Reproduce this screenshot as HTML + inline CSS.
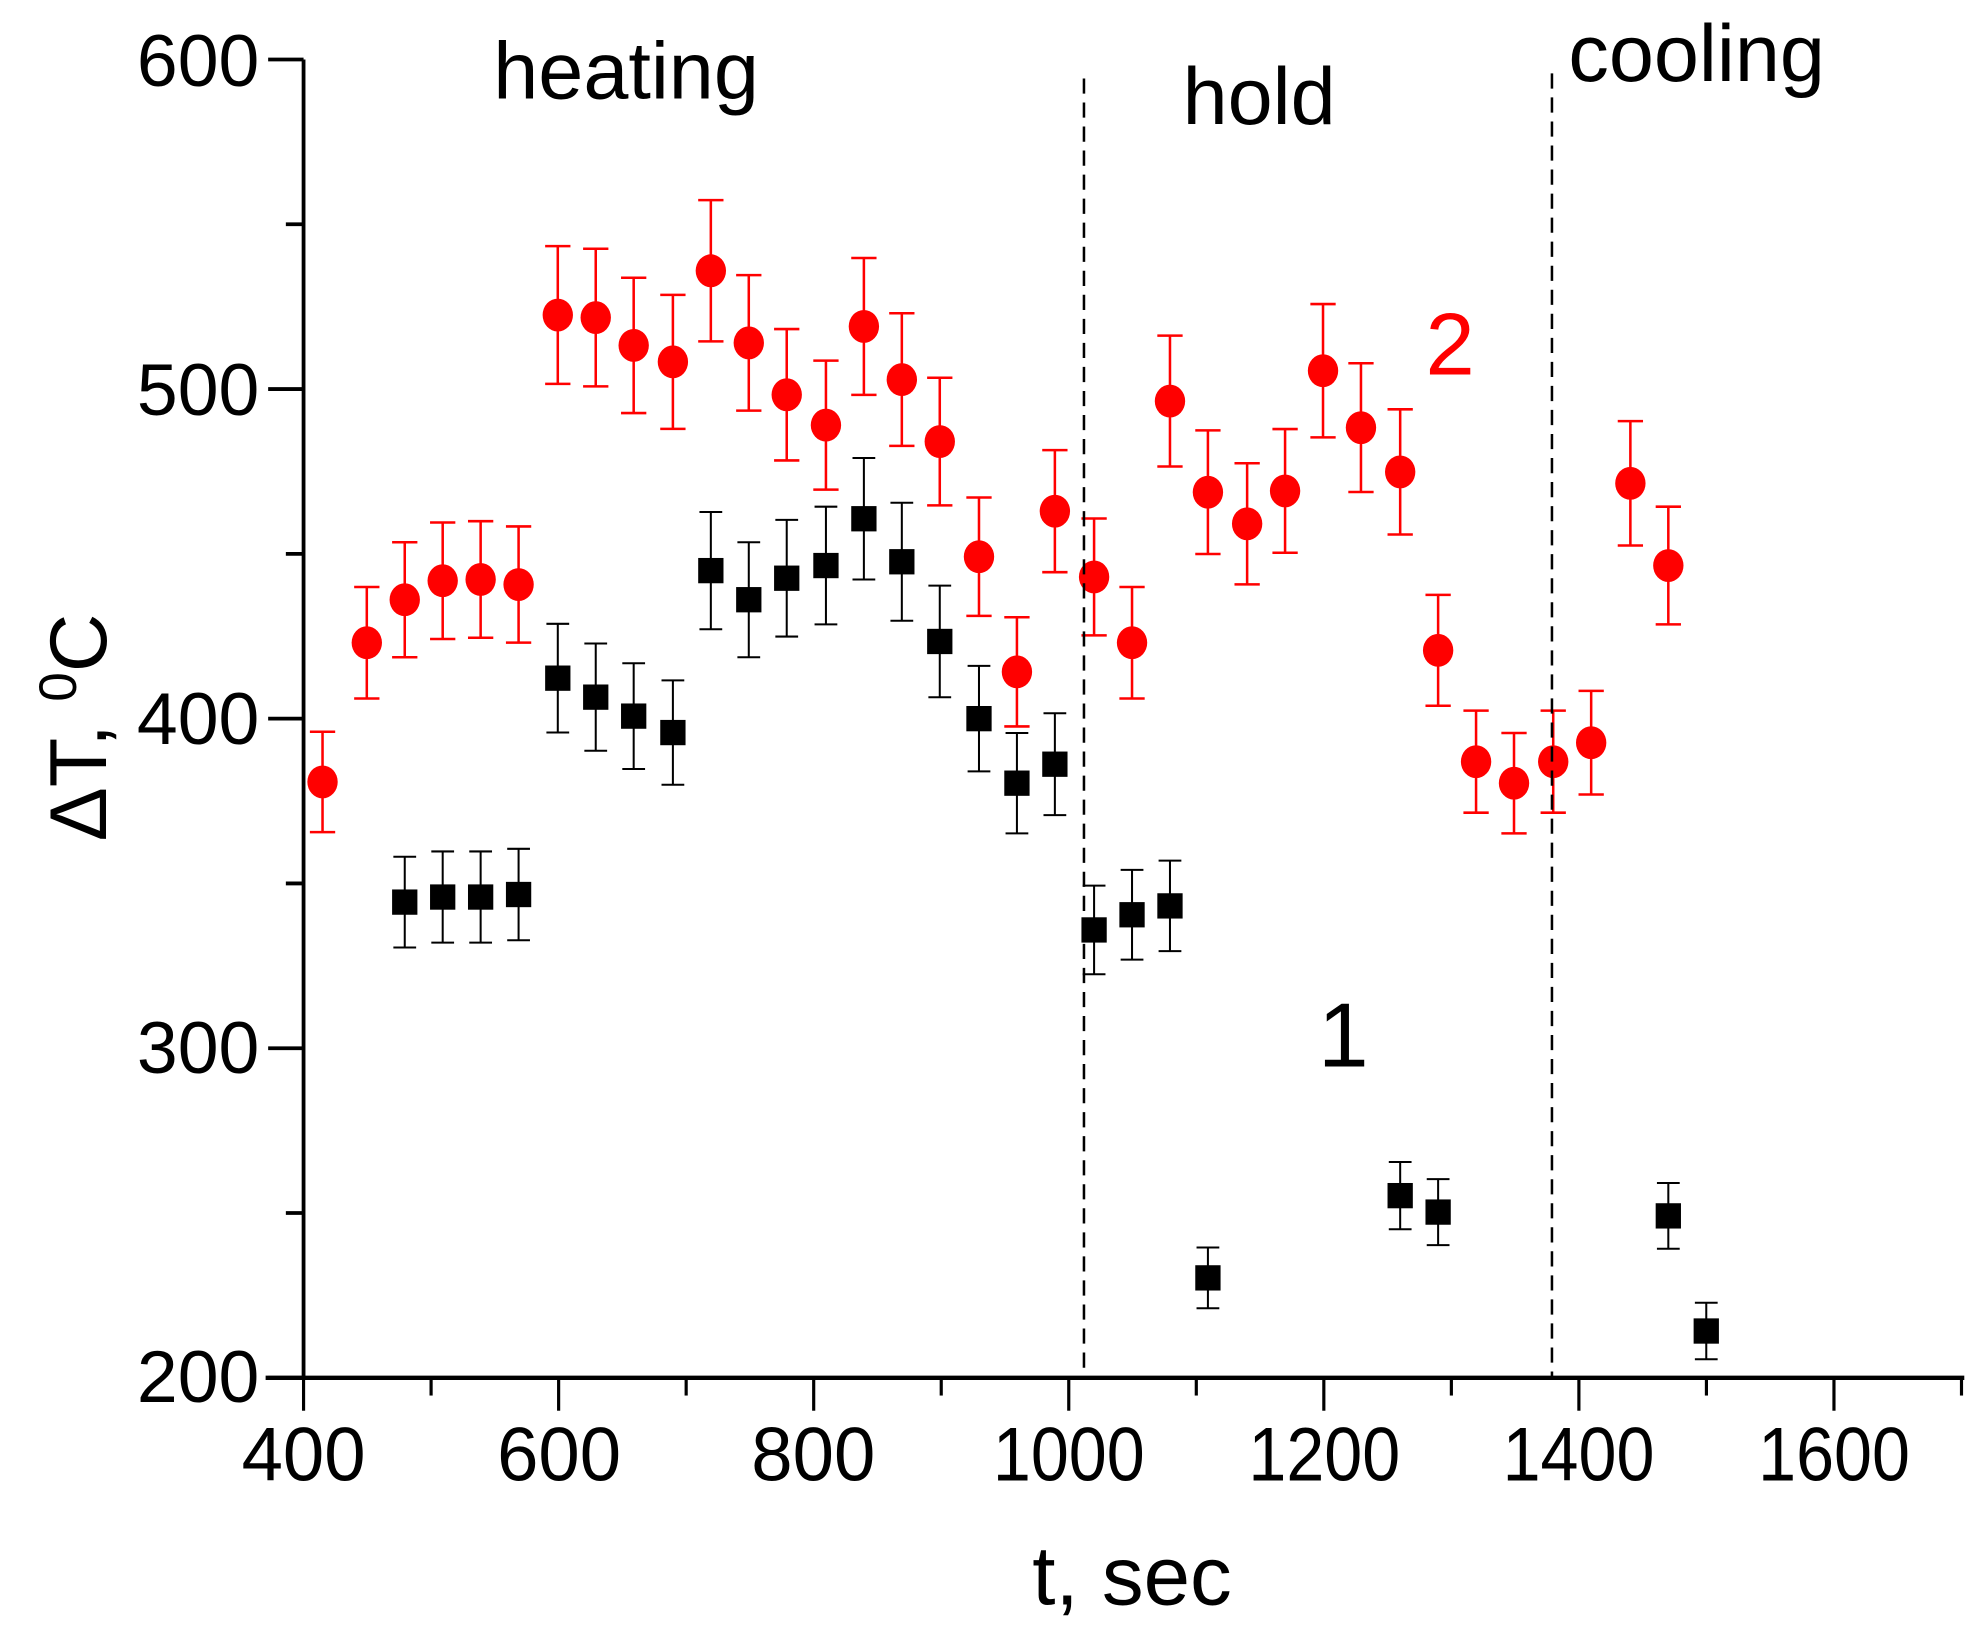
<!DOCTYPE html>
<html><head><meta charset="utf-8"><style>html,body{margin:0;padding:0;background:#fff}svg{display:block}</style></head>
<body>
<svg id="s" xmlns="http://www.w3.org/2000/svg" width="1982" height="1641" viewBox="0 0 1567 1297" preserveAspectRatio="none" font-family="Liberation Sans, Arial, sans-serif">
<rect width="1567" height="1297" fill="#fff"/>
<g id="g"></g>
<line x1="857" y1="62" x2="857" y2="1089" stroke="#000" stroke-width="2" stroke-dasharray="12,7"/>
<line x1="1227" y1="58" x2="1227" y2="1089" stroke="#000" stroke-width="2" stroke-dasharray="12,7"/>
<line x1="240" y1="47" x2="240" y2="1089" stroke="#000" stroke-width="3"/>
<line x1="210" y1="1089" x2="1553" y2="1089" stroke="#000" stroke-width="3.5"/>
<g font-size="58" fill="#000" text-anchor="end">
<text x="205" y="1108">200</text><text x="205" y="848">300</text><text x="205" y="588">400</text><text x="205" y="328">500</text><text x="205" y="68">600</text>
</g>
<g font-size="60" fill="#000" text-anchor="middle">
<text x="240" y="1170" textLength="98" lengthAdjust="spacingAndGlyphs">400</text>
<text x="442" y="1170" textLength="98" lengthAdjust="spacingAndGlyphs">600</text>
<text x="643" y="1170" textLength="98" lengthAdjust="spacingAndGlyphs">800</text>
<text x="845" y="1170" textLength="120" lengthAdjust="spacingAndGlyphs">1000</text>
<text x="1047" y="1170" textLength="120" lengthAdjust="spacingAndGlyphs">1200</text>
<text x="1248" y="1170" textLength="120" lengthAdjust="spacingAndGlyphs">1400</text>
<text x="1450" y="1170" textLength="120" lengthAdjust="spacingAndGlyphs">1600</text>
</g>
<text x="895" y="1268" font-size="66" text-anchor="middle">t, sec</text>
<text transform="translate(84,575) rotate(-90)" font-size="64" text-anchor="middle">ΔT, <tspan font-size="42" dy="-24">0</tspan><tspan dy="24">C</tspan></text>
<text x="390" y="78" font-size="64">heating</text>
<text x="935" y="98" font-size="64">hold</text>
<text x="1240" y="64" font-size="64">cooling</text>
<text x="1127" y="296" font-size="70" fill="#f00">2</text>
<text x="1042" y="843" font-size="72" fill="#000">1</text>
</svg>
<script>
var g=document.getElementById('g'),NS='http://www.w3.org/2000/svg';
function el(t,a){var e=document.createElementNS(NS,t);for(var k in a)e.setAttribute(k,a[k]);g.appendChild(e);return e;}
for(var v=200;v<=600;v+=50){var y=1089-(v-200)*2.605;var L=(v%100==0)?28:14;el('line',{x1:240-L,y1:y,x2:240,y2:y,stroke:'#000','stroke-width':3});}
for(var x=400;x<=1700;x+=100){var px=240+(x-400)*1.0083;var L=(x%200==0)?26:14;el('line',{x1:px,y1:1089,x2:px,y2:1089+L,stroke:'#000','stroke-width':2.5});}
var red=[[255,618],[290,508],[320,474],[350,459],[380,458],[410,462],[441,249],[471,251],[501,273],[532,286],[562,214],[592,271],[622,312],[653,336],[683,258],[713,300],[743,349],[774,440],[804,531],[834,404],[865,456],[895,508],[925,317],[955,389],[986,414],[1016,388],[1046,293],[1076,338],[1107,373],[1137,514],[1167,602],[1197,619],[1228,602],[1258,587],[1289,382],[1319,447]];
var blk=[[320,713],[350,709],[380,709],[410,707],[441,536],[471,551],[501,566],[532,579],[562,451],[592,474],[622,457],[653,447],[683,410],[713,444],[743,507],[774,568],[804,619],[834,604],[865,735],[895,723],[925,716],[955,1010],[1107,945],[1137,958],[1319,961],[1349,1052]];
function err(py){var v=200+(1089-py)/2.605;return v*0.04*2.605;}
red.forEach(function(p){var e=err(p[1]);
el('line',{x1:p[0],y1:p[1]-e,x2:p[0],y2:p[1]+e,stroke:'#f00','stroke-width':2});
el('line',{x1:p[0]-10,y1:p[1]-e,x2:p[0]+10,y2:p[1]-e,stroke:'#f00','stroke-width':2});
el('line',{x1:p[0]-10,y1:p[1]+e,x2:p[0]+10,y2:p[1]+e,stroke:'#f00','stroke-width':2});
el('ellipse',{cx:p[0],cy:p[1],rx:12,ry:13,fill:'#f00'});});
blk.forEach(function(p){var e=err(p[1]);
el('line',{x1:p[0],y1:p[1]-e,x2:p[0],y2:p[1]+e,stroke:'#000','stroke-width':1.6});
el('line',{x1:p[0]-9,y1:p[1]-e,x2:p[0]+9,y2:p[1]-e,stroke:'#000','stroke-width':1.6});
el('line',{x1:p[0]-9,y1:p[1]+e,x2:p[0]+9,y2:p[1]+e,stroke:'#000','stroke-width':1.6});
el('rect',{x:p[0]-10,y:p[1]-10,width:20,height:20,fill:'#000'});});
</script>
</body></html>
